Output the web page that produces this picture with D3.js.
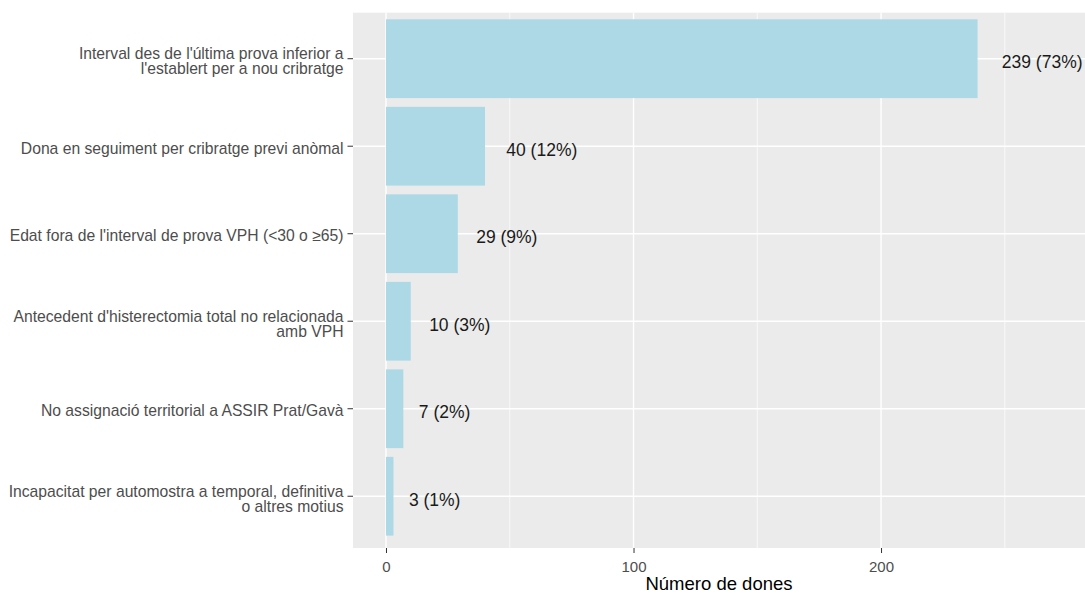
<!DOCTYPE html>
<html>
<head>
<meta charset="utf-8">
<script src="https://cdn.jsdelivr.net/npm/d3@7"></script>
<style>
  html, body { margin: 0; padding: 0; background: #ffffff; }
  svg { display: block; font-family: "Liberation Sans", Arial, sans-serif; }
</style>
</head>
<body>
<svg id="chart" width="1085" height="595"></svg>
<script>
// ---- data ----
const categories = [
  ["Interval des de l'última prova inferior a", "l'establert per a nou cribratge"],
  ["Dona en seguiment per cribratge previ anòmal"],
  ["Edat fora de l'interval de prova VPH (<30 o ≥65)"],
  ["Antecedent d'histerectomia total no relacionada", "amb VPH"],
  ["No assignació territorial a ASSIR Prat/Gavà"],
  ["Incapacitat per automostra a temporal, definitiva", "o altres motius"]
];
const values = [239, 40, 29, 10, 7, 3];
const percents = ["73%", "12%", "9%", "3%", "2%", "1%"];
const xTicks = [0, 100, 200];
const xMinor = [50, 150, 250];
const xTitle = "Número de dones";

// ---- layout ----
const svg = d3.select("#chart");
const panel = {left: 353, right: 1085, top: 12.7, bottom: 548};

const keys = categories.map((c, i) => "c" + i);
const x = d3.scaleLinear().domain([-13.33, 282.4]).range([panel.left, panel.right]);
const y = d3.scaleBand().domain(keys).range([14.95, 540]).paddingInner(0.1).paddingOuter(0.05);

// panel background
svg.append("rect")
  .attr("x", panel.left).attr("y", panel.top)
  .attr("width", panel.right - panel.left).attr("height", panel.bottom - panel.top)
  .attr("fill", "#EBEBEB");

// minor grid
svg.append("g").selectAll("line").data(xMinor).join("line")
  .attr("x1", d => x(d)).attr("x2", d => x(d))
  .attr("y1", panel.top).attr("y2", panel.bottom)
  .attr("stroke", "#ffffff").attr("stroke-width", 0.7);

// major grid
svg.append("g").selectAll("line").data(xTicks).join("line")
  .attr("x1", d => x(d)).attr("x2", d => x(d))
  .attr("y1", panel.top).attr("y2", panel.bottom)
  .attr("stroke", "#ffffff").attr("stroke-width", 1.4);

svg.append("g").selectAll("line").data(keys).join("line")
  .attr("x1", panel.left).attr("x2", panel.right)
  .attr("y1", d => y(d) + y.bandwidth() / 2).attr("y2", d => y(d) + y.bandwidth() / 2)
  .attr("stroke", "#ffffff").attr("stroke-width", 1.4);

// bars
svg.append("g").selectAll("rect").data(values).join("rect")
  .attr("x", x(0))
  .attr("y", (d, i) => y(keys[i]))
  .attr("width", d => x(d) - x(0))
  .attr("height", y.bandwidth())
  .attr("fill", "#ADD8E6");

// value labels (hjust ~ -0.3)
const lab = svg.append("g").selectAll("text").data(values).join("text")
  .attr("y", (d, i) => y(keys[i]) + y.bandwidth() / 2 + 9.3)
  .attr("font-size", 17.5)
  .attr("fill", "#1a1a1a")
  .text((d, i) => d + " (" + percents[i] + ")");
lab.each(function(d) {
  const w = this.getComputedTextLength();
  d3.select(this).attr("x", x(d) + 0.3 * w);
});

// y axis ticks
svg.append("g").selectAll("line").data(keys).join("line")
  .attr("x1", panel.left - 5.5).attr("x2", panel.left)
  .attr("y1", d => y(d) + y.bandwidth() / 2).attr("y2", d => y(d) + y.bandwidth() / 2)
  .attr("stroke", "#333333").attr("stroke-width", 1);

// y axis labels
const yl = svg.append("g").selectAll("text").data(categories).join("text")
  .attr("text-anchor", "end")
  .attr("font-size", 15.7)
  .attr("fill", "#4D4D4D")
  .attr("x", panel.left - 9.5)
  .attr("y", (d, i) => {
    const c = y(keys[i]) + y.bandwidth() / 2;
    return d.length === 1 ? c + 7.5 : c + 0.5;
  });
yl.selectAll("tspan").data(d => d).join("tspan")
  .attr("x", panel.left - 9.5)
  .attr("dy", (d, j) => j === 0 ? 0 : 15)
  .text(d => d);

// x axis
const xAxis = d3.axisBottom(x).tickValues(xTicks).tickSize(5).tickPadding(4).tickFormat(d3.format("d"));
const gx = svg.append("g").attr("transform", `translate(0,${panel.bottom})`).call(xAxis);
gx.select(".domain").remove();
gx.selectAll(".tick line").attr("stroke", "#333333");
gx.selectAll(".tick text")
  .attr("font-size", 15)
  .attr("font-family", "Liberation Sans, Arial, sans-serif")
  .attr("fill", "#4D4D4D")
  .attr("dy", null)
  .attr("y", 24);

// x title
svg.append("text")
  .attr("x", (panel.left + panel.right) / 2)
  .attr("y", 590)
  .attr("text-anchor", "middle")
  .attr("font-size", 18.5)
  .attr("fill", "#000000")
  .text(xTitle);
</script>
</body>
</html>
